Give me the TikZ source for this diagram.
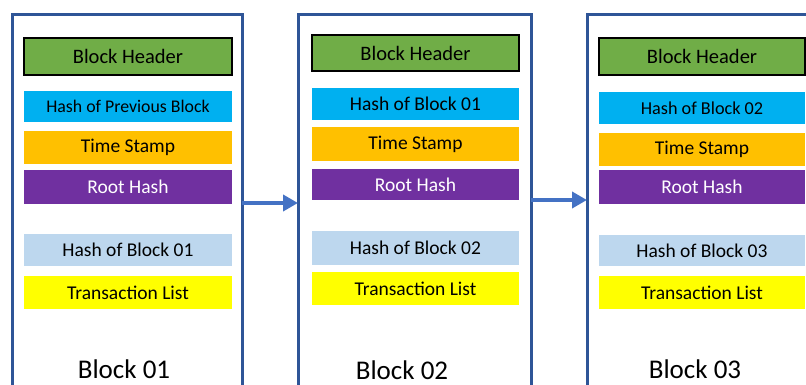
\documentclass[tikz,border=0pt]{standalone}
\usepackage{fontspec}
\setmainfont{Carlito}
\usetikzlibrary{arrows.meta}
\definecolor{hdrgreen}{HTML}{70AD47}
\definecolor{prevcyan}{HTML}{00B0F0}
\definecolor{tsorange}{HTML}{FFC000}
\definecolor{rhpurple}{HTML}{7030A0}
\definecolor{hbblue}{HTML}{BDD7EE}
\definecolor{tlyellow}{HTML}{FFFF00}
\definecolor{framecol}{HTML}{2F5597}
\definecolor{arrowcol}{HTML}{4472C4}
\tikzset{
  fld/.style={rectangle, inner sep=0pt, outer sep=0pt, font=\fontsize{19.5}{22}\selectfont, text=black},
  hdrbox/.style={fld, fill=hdrgreen, draw=black, line width=1.3pt, font=\fontsize{20.5}{23}\selectfont},
  prevbox/.style={fld, fill=prevcyan},
  tsbox/.style={fld, fill=tsorange},
  rhbox/.style={fld, fill=rhpurple, text=white},
  hbbox/.style={fld, fill=hbblue},
  tlbox/.style={fld, fill=tlyellow},
  framebox/.style={rectangle, draw=framecol, line width=3pt, inner sep=0pt, outer sep=0pt},
  blocklabel/.style={anchor=base, inner sep=0pt, text depth=0pt, font=\fontsize{27}{30}\selectfont},
  chainarrow/.style={draw=arrowcol, line width=4.5pt, -{Triangle[length=15pt,width=16pt]}}
}
\begin{document}
\begin{tikzpicture}[x=1pt,y=-1pt]
\useasboundingbox (0,0) rectangle (806,385);
\clip (0,0) rectangle (806,385);
% frames
\node[framebox, minimum width=230pt, minimum height=405pt] (f1) at (127,217.5) {};
\node[framebox, minimum width=233pt, minimum height=405pt] (f2) at (414.5,217.5) {};
\node[framebox, minimum width=233pt, minimum height=405pt] (f3) at (703.5,217.5) {};
% block 1
\node[hdrbox, minimum width=208pt, minimum height=37pt] (h1) at (128,56.5) {Block Header};
\node[prevbox, minimum width=208pt, minimum height=31pt, font=\fontsize{17.8}{20}\selectfont] (p1) at (128,106.5) {Hash of Previous Block};
\node[tsbox, minimum width=208pt, minimum height=33pt] (t1) at (128,147.5) {Time Stamp};
\node[rhbox, minimum width=208pt, minimum height=34pt] (r1) at (128,187) {Root Hash};
\node[hbbox, minimum width=208pt, minimum height=32pt] (b1) at (128,250) {Hash of Block 01};
\node[tlbox, minimum width=208pt, minimum height=33pt] (l1) at (128,292.5) {Transaction List};
\node[blocklabel] (n1) at (124,378) {Block 01};
% block 2
\node[hdrbox, minimum width=207pt, minimum height=36pt] (h2) at (415.5,53) {Block Header};
\node[prevbox, minimum width=207pt, minimum height=32pt] (p2) at (415.5,104) {Hash of Block 01};
\node[tsbox, minimum width=207pt, minimum height=34pt] (t2) at (415.5,144) {Time Stamp};
\node[rhbox, minimum width=207pt, minimum height=31pt] (r2) at (415.5,184.5) {Root Hash};
\node[hbbox, minimum width=207pt, minimum height=34pt] (b2) at (415.5,248) {Hash of Block 02};
\node[tlbox, minimum width=207pt, minimum height=33pt] (l2) at (415.5,288.5) {Transaction List};
\node[blocklabel] (n2) at (402,379) {Block 02};
% block 3
\node[hdrbox, minimum width=206pt, minimum height=37pt] (h3) at (702,56.5) {Block Header};
\node[prevbox, minimum width=206pt, minimum height=32pt, font=\fontsize{18.2}{21}\selectfont] (p3) at (702,108) {Hash of Block 02};
\node[tsbox, minimum width=206pt, minimum height=33pt] (t3) at (702,149.5) {Time Stamp};
\node[rhbox, minimum width=206pt, minimum height=34pt] (r3) at (702,187) {Root Hash};
\node[hbbox, minimum width=206pt, minimum height=31pt] (b3) at (702,250.5) {Hash of Block 03};
\node[tlbox, minimum width=206pt, minimum height=33pt] (l3) at (702,292.5) {Transaction List};
\node[blocklabel] (n3) at (695,378.5) {Block 03};
% arrows
\draw[chainarrow] (f1.east |- 0,203) -- (f2.west |- 0,203);
\draw[chainarrow] (f2.east |- 0,200) -- (f3.west |- 0,200);
\end{tikzpicture}
\end{document}
